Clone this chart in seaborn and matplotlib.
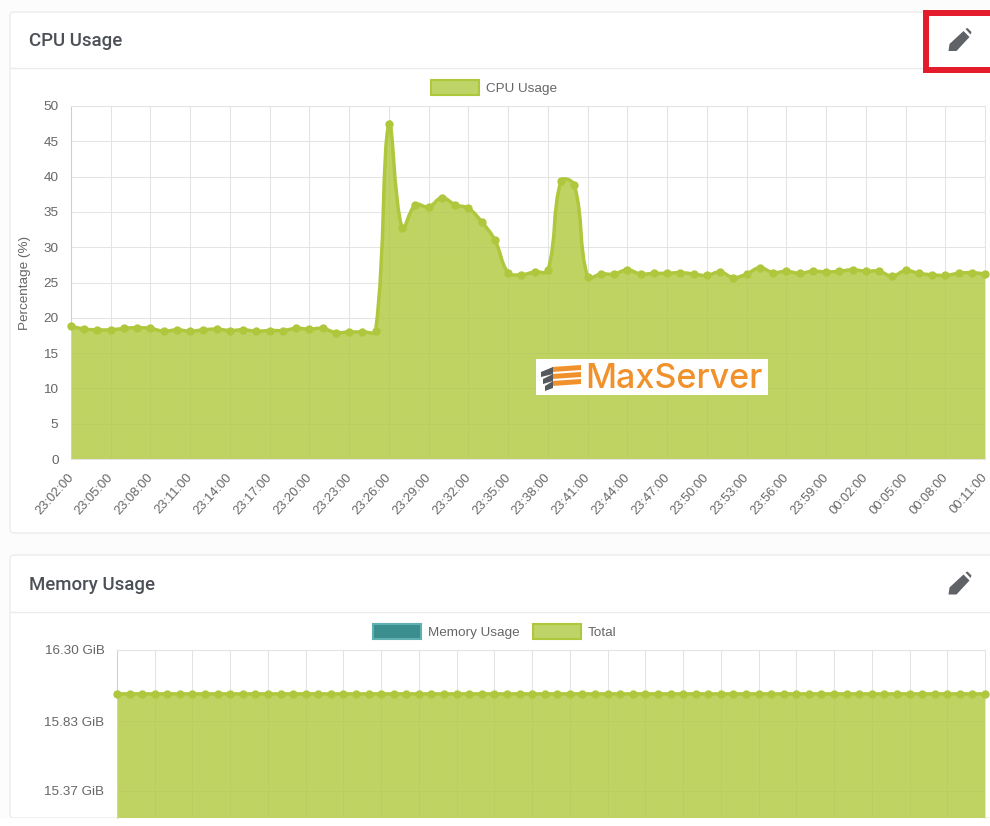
import numpy as np
import pandas as pd
import matplotlib
matplotlib.use("Agg")
import matplotlib.pyplot as plt
from matplotlib.patches import Rectangle, FancyBboxPatch, Polygon, Patch, PathPatch
from matplotlib.path import Path
from matplotlib.ticker import FixedLocator, FixedFormatter
from matplotlib.transforms import ScaledTranslation
import seaborn as sns

tick_labels = ["23:02:00","23:05:00","23:08:00","23:11:00","23:14:00","23:17:00","23:20:00","23:23:00",
               "23:26:00","23:29:00","23:32:00","23:35:00","23:38:00","23:41:00","23:44:00","23:47:00",
               "23:50:00","23:53:00","23:56:00","23:59:00","00:02:00","00:05:00","00:08:00","00:11:00"]
cpu_usage = [18.8,18.4,18.3,18.3,18.5,18.6,18.5,18.1,18.3,18.1,18.3,18.4,18.2,18.3,18.1,18.2,18.2,18.5,18.4,18.5,
             17.9,18.0,18.0,18.2,47.5,32.7,36.0,35.7,37.0,36.0,35.5,33.6,31.0,26.4,26.1,26.5,26.7,39.4,38.8,25.8,
             26.2,26.2,26.8,26.2,26.3,26.3,26.4,26.2,26.0,26.5,25.7,26.2,27.1,26.4,26.6,26.3,26.6,26.5,26.6,26.8,
             26.6,26.6,25.9,26.7,26.3,26.1,26.0,26.3,26.4,26.2]
memory_total = [16.01] * 70
minutes = list(range(70))
cpu_yticks = [0,5,10,15,20,25,30,35,40,45,50]
mem_yticks = [15.37,15.83,16.30]
mem_ylabels = ["15.37 GiB","15.83 GiB","16.30 GiB"]

W, H = 990, 826
LINE = "#aec73c"
FILL = "#b0c83c"
GRID = "#e4e4e4"
TXT = "#666666"
HEAD = "#4b4f56"
CHART_FONT = ["Liberation Sans", "DejaVu Sans"]

sns.set_theme(style="white")
plt.rcParams["font.family"] = ["Roboto", "DejaVu Sans"]

fig = plt.figure(figsize=(W/100, H/100), dpi=100, facecolor="#fcfcfc")

def rect_axes(x0, y0, x1, y1, **kw):
    return fig.add_axes([x0/W, 1-y1/H, (x1-x0)/W, (y1-y0)/H], **kw)

bg = fig.add_axes([0,0,1,1], zorder=0)
bg.set_xlim(0,W); bg.set_ylim(H,0); bg.axis("off")
for y0, y1, head in [(12,533,68),(555,818,612)]:
    bg.add_patch(FancyBboxPatch((10,y0),1000,y1-y0,boxstyle="round,pad=0,rounding_size=4",
                                fc="white",ec="#ececec",lw=1))
    bg.plot([10,990],[head,head],color="#ececec",lw=1)
bg.add_patch(Rectangle((0,818),W,8,fc="white",ec="none"))
bg.text(29,39.5,"CPU Usage",fontsize=13.4,fontweight=500,color=HEAD,va="center_baseline",ha="left")
bg.text(29,583,"Memory Usage",fontsize=13.4,fontweight=500,color=HEAD,va="center_baseline",ha="left")

def smooth_path(x, y, sx, sy, base=None, tension=0.4):
    """Cubic path through the data points, with Chart.js-style control points."""
    x = np.asarray(x, float); y = np.asarray(y, float)
    verts = [(x[0], y[0])]; codes = [Path.MOVETO]
    n = len(x)
    def ctrl(i):
        p = (x[max(i-1,0)]*sx, y[max(i-1,0)]*sy)
        c = (x[i]*sx, y[i]*sy)
        q = (x[min(i+1,n-1)]*sx, y[min(i+1,n-1)]*sy)
        d1 = np.hypot(c[0]-p[0], c[1]-p[1]); d2 = np.hypot(q[0]-c[0], q[1]-c[1])
        s = d1+d2
        f1 = tension*d1/s; f2 = tension*d2/s
        return ((c[0]-f1*(q[0]-p[0]))/sx, (c[1]-f1*(q[1]-p[1]))/sy), ((c[0]+f2*(q[0]-p[0]))/sx, (c[1]+f2*(q[1]-p[1]))/sy)
    for i in range(n-1):
        verts += [ctrl(i)[1], ctrl(i+1)[0], (x[i+1], y[i+1])]
        codes += [Path.CURVE4]*3
    if base is not None:
        verts += [(x[-1], base), (x[0], base), (x[0], y[0])]
        codes += [Path.LINETO, Path.LINETO, Path.CLOSEPOLY]
    return Path(verts, codes)

def style(ax):
    ax.set_facecolor("none")
    ax.set_xlim(0,69)
    ax.xaxis.set_major_locator(FixedLocator(minutes[::3]))
    ax.grid(True,color=GRID,lw=0.75)
    ax.set_axisbelow(True)
    for s in ax.spines.values():
        s.set_color(GRID); s.set_linewidth(0.75)
    ax.spines["left"].set_color("#cfcfcf")
    ax.tick_params(axis="both",length=7,width=0.75,color=GRID,labelcolor=TXT,labelsize=9.7,pad=2)
    for t in ax.get_xticklabels()+ax.get_yticklabels():
        t.set_family(CHART_FONT)
    ax.set_xlabel("")

def draw(ax, x, y, base, sx, sy):
    df = pd.DataFrame({"t":x,"v":y})
    ax.add_patch(PathPatch(smooth_path(x,y,sx,sy,base=base),fc=FILL,alpha=0.8,lw=0,zorder=2))
    ax.add_patch(PathPatch(smooth_path(x,y,sx,sy),fc="none",ec=LINE,lw=2.5,zorder=3,clip_on=False))
    sns.lineplot(data=df,x="t",y="v",ax=ax,color=LINE,lw=0,marker="o",markersize=6,
                 markeredgewidth=0,zorder=4,clip_on=False,legend=False,errorbar=None)

legend_kw = dict(loc="lower left",frameon=False,labelcolor=TXT,prop=dict(family=CHART_FONT,size=9.7),
                 handlelength=3.55,handleheight=1.3,handletextpad=0.5,borderpad=0.45,borderaxespad=0)

# CPU
ax1 = rect_axes(71,106,985,459,zorder=2)
draw(ax1,minutes,cpu_usage,0,914/69,353/50)
ax1.set_ylim(0,50)
ax1.set_yticks(cpu_yticks)
ax1.set_xticks(minutes[::3])
ax1.set_xticklabels(tick_labels,rotation=48,ha="right",rotation_mode="anchor")
style(ax1)
shift = ScaledTranslation(-4/100,0,fig.dpi_scale_trans)
for t in ax1.get_xticklabels():
    t.set_transform(t.get_transform()+shift)
    t.set_fontsize(9.4)
ax1.set_ylabel("Percentage (%)",color=TXT,fontsize=9.7,family=CHART_FONT,labelpad=9)
ax1.legend(handles=[Patch(fc="#bfd466",ec=LINE,lw=1.5,label="CPU Usage")],
           bbox_to_anchor=((425-71)/914,1+5/353),**legend_kw)

# Memory
ax2 = rect_axes(117,650,985,818,zorder=2)
draw(ax2,minutes,memory_total,15.19,868/69,168/1.11)
ax2.set_ylim(15.19,16.30)
style(ax2)
ax2.yaxis.set_major_locator(FixedLocator(mem_yticks))
ax2.yaxis.set_major_formatter(FixedFormatter(mem_ylabels))
for t in ax2.get_yticklabels():
    t.set_family(CHART_FONT)
ax2.tick_params(axis="x",length=0,labelbottom=False)
ax2.spines["bottom"].set_visible(False)
ax2.set_ylabel("")
ax2.legend(handles=[Patch(fc="#3a8f8e",ec="#5fb0ae",lw=1.5,label="Memory Usage"),
                    Patch(fc="#bfd466",ec=LINE,lw=1.5,label="Total")],
           bbox_to_anchor=((367-117)/868,1+5/168),ncols=2,columnspacing=1.0,**legend_kw)

# overlay
top = fig.add_axes([0,0,1,1],zorder=5)
top.set_xlim(0,W); top.set_ylim(H,0); top.axis("off"); top.patch.set_alpha(0)

def pencil(cx, cy):
    pts = np.array([[-11,11],[-10,4],[4,-9],[10,-3],[-3,11]])+[cx,cy]
    top.add_patch(Polygon(pts,closed=True,fc="#5f6368",ec="none"))
    tip = np.array([[6,-11],[8,-12],[12,-8],[11,-5.5]])+[cx,cy]
    top.add_patch(Polygon(tip,closed=True,fc="#5f6368",ec="none"))

pencil(959.5,40); pencil(959.5,583.5)
top.add_patch(Rectangle((926,13),68,57,fc="none",ec="#e31b2a",lw=4.3,joinstyle="miter",capstyle="projecting"))

# logo
top.add_patch(Rectangle((536,359),231.5,36,fc="white",ec="none"))
for i,dy in enumerate([365,372,379]):
    top.add_patch(Polygon([[552,dy+2],[581,dy],[581,dy+5],[552,dy+7]],fc="#f0912b",ec="none"))
    top.add_patch(Polygon([[541+i*2,dy+7],[553,dy+2],[553,dy+9],[541+i*2,dy+12]],fc="#55585c",ec="none"))
top.text(585,378.5,"MaxServer",fontsize=24.5,color="#f0912b",family="Inter",fontweight=500,va="center",ha="left")

fig.savefig("out.png",dpi=100,facecolor=fig.get_facecolor())
